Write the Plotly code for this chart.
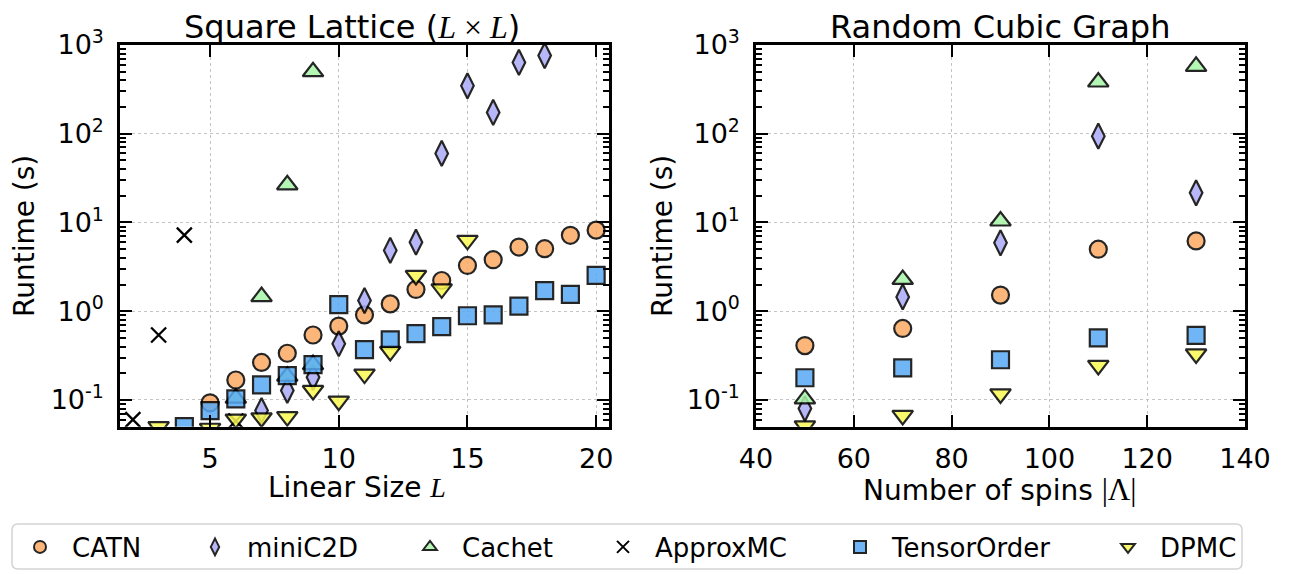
import plotly.graph_objects as go
import math

# ---------------- data ----------------
# Square lattice (x = linear size L)
sq_catn_x = [5, 6, 7, 8, 9, 10, 11, 12, 13, 14, 15, 16, 17, 18, 19, 20]
sq_catn_y = [0.093, 0.168, 0.265, 0.336, 0.54, 0.68, 0.91, 1.21, 1.76, 2.22, 3.28, 3.81, 5.29, 5.07, 7.17, 8.2]

sq_mini_x = [7, 8, 9, 10, 11, 12, 13, 14, 15, 16, 17, 18]
sq_mini_y = [0.076, 0.128, 0.18, 0.43, 1.32, 4.85, 6.0, 60, 347, 174, 636, 760]

sq_cachet_x = [6, 7, 8, 8, 9, 9]
sq_cachet_y = [0.105, 1.46, 0.185, 26.6, 0.25, 500]

sq_approx_x = [2, 3, 4, 6]
sq_approx_y = [0.060, 0.54, 7.2, 0.058]

sq_tensor_x = [4, 5, 6, 7, 8, 9, 10, 11, 12, 13, 14, 15, 16, 17, 18, 19, 20]
sq_tensor_y = [0.05, 0.076, 0.103, 0.148, 0.188, 0.25, 1.19, 0.37, 0.475, 0.56, 0.67, 0.89, 0.91, 1.14, 1.71, 1.55, 2.53]

sq_dpmc_x = [3, 5, 6, 7, 8, 9, 10, 11, 12, 13, 14, 15]
sq_dpmc_y = [0.05, 0.048, 0.061, 0.063, 0.065, 0.128, 0.097, 0.196, 0.353, 2.53, 1.79, 6.3]

# Random cubic graph (x = number of spins)
rc_x = [50, 70, 90, 110, 130]
rc_catn_y = [0.41, 0.64, 1.52, 5.0, 6.2]
rc_mini_y = [0.08, 1.45, 5.9, 94, 21.6]
rc_cachet_y = [0.103, 2.28, 10.4, 383, 575]
rc_tensor_y = [0.178, 0.23, 0.284, 0.50, 0.535]
rc_dpmc_y = [0.051, 0.067, 0.117, 0.245, 0.33]

series_names = ["CATN", "miniC2D", "Cachet", "ApproxMC", "TensorOrder", "DPMC"]
y_tickvals = [0.1, 1, 10, 100, 1000]
y_ticktext = ["10<sup>-1</sup>", "10<sup>0</sup>", "10<sup>1</sup>", "10<sup>2</sup>", "10<sup>3</sup>"]
sq_xticks = [5, 10, 15, 20]
rc_xticks = [40, 60, 80, 100, 120, 140]

# ---------------- styling ----------------
# The page body has an 8px margin: the figure is sized to fit the window exactly
OFF = 8
W, H = 1292 - OFF, 574 - OFF
FONT = "DejaVu Sans"
styles = {
    "CATN": dict(symbol="circle", color="#fdaa62", size=17),
    "miniC2D": dict(symbol="diamond-tall", color="#aaaaf8", size=18),
    "Cachet": dict(symbol="triangle-up", color="#a8f5a8", size=18),
    "ApproxMC": dict(symbol="x-thin", color="black", size=15),
    "TensorOrder": dict(symbol="square", color="#58aaf5", size=17),
    "DPMC": dict(symbol="triangle-down", color="#f8f852", size=18),
}

sq_data = {
    "CATN": (sq_catn_x, sq_catn_y),
    "miniC2D": (sq_mini_x, sq_mini_y),
    "Cachet": (sq_cachet_x, sq_cachet_y),
    "ApproxMC": (sq_approx_x, sq_approx_y),
    "TensorOrder": (sq_tensor_x, sq_tensor_y),
    "DPMC": (sq_dpmc_x, sq_dpmc_y),
}
rc_data = {
    "CATN": (rc_x, rc_catn_y),
    "miniC2D": (rc_x, rc_mini_y),
    "Cachet": (rc_x, rc_cachet_y),
    "TensorOrder": (rc_x, rc_tensor_y),
    "DPMC": (rc_x, rc_dpmc_y),
}

legend_ids = ["legend", "legend2", "legend3", "legend4", "legend5", "legend6"]


def marker_for(name):
    s = styles[name]
    if name == "ApproxMC":
        return dict(symbol=s["symbol"], size=s["size"], color="black",
                    line=dict(color="black", width=2.3))
    return dict(symbol=s["symbol"], size=s["size"], color=s["color"], opacity=0.85,
                line=dict(color="black", width=2.2))


fig = go.Figure()
for i, name in enumerate(series_names):
    x, y = sq_data[name]
    fig.add_trace(go.Scatter(x=x, y=y, mode="markers", name=name, legendgroup=name,
                             marker=marker_for(name), xaxis="x", yaxis="y",
                             legend=legend_ids[i], showlegend=True))
for name in series_names:
    if name not in rc_data:
        continue
    x, y = rc_data[name]
    fig.add_trace(go.Scatter(x=x, y=y, mode="markers", name=name, legendgroup=name,
                             marker=marker_for(name), xaxis="x2", yaxis="y2",
                             showlegend=False))

# ---------------- axes ----------------
minor_vals = []
for e in range(-2, 3):
    for m in range(2, 10):
        v = m * 10 ** e
        if 0.05 <= v <= 1000:
            minor_vals.append(v)

def px_x(p):
    return (p - OFF) / W

def px_y(p):
    return 1 - (p - OFF) / H

y_dom = [px_y(426.7), px_y(45)]
common_x = dict(ticks="inside", ticklen=12, tickwidth=2, tickcolor="black", mirror="allticks",
                showline=True, linewidth=2.5, linecolor="black", showgrid=True,
                gridcolor="#c4c4c4", griddash="dot", gridwidth=1, zeroline=False,
                tickfont=dict(family=FONT, size=27, color="black"), ticklabelstandoff=6)
common_y = dict(type="log", range=[math.log10(0.05), 3], tickmode="array", tickvals=y_tickvals,
                ticktext=y_ticktext, ticks="inside", ticklen=12, tickwidth=2, tickcolor="black",
                mirror="allticks", showline=True, linewidth=2.5, linecolor="black", showgrid=True,
                gridcolor="#c4c4c4", griddash="dot", gridwidth=1, zeroline=False,
                tickfont=dict(family=FONT, size=27, color="black"), ticklabelstandoff=8,
                minor=dict(tickmode="array", tickvals=minor_vals, ticks="inside", ticklen=6,
                           tickwidth=1.5, tickcolor="black", showgrid=False),
                domain=y_dom)

fig.update_layout(
    width=W, height=H,
    margin=dict(l=0, r=0, t=0, b=0, autoexpand=False),
    paper_bgcolor="white", plot_bgcolor="white",
    font=dict(family=FONT, color="black"),
    xaxis=dict(common_x, domain=[px_x(120), px_x(609)], range=[1.5, 20.5],
               tickmode="array", tickvals=sq_xticks, anchor="y"),
    yaxis=dict(common_y, anchor="x"),
    xaxis2=dict(common_x, domain=[px_x(756), px_x(1245)], range=[40, 140],
                tickmode="array", tickvals=rc_xticks, anchor="y2"),
    yaxis2=dict(common_y, anchor="x2"),
)

# ---------------- legends (one per entry, framed by a rounded box) ----------------
marker_px = [35, 210, 425, 618, 855, 1123]
for lid, mx in zip(legend_ids, marker_px):
    fig.update_layout({lid: dict(x=px_x(mx - 27), y=px_y(547), xanchor="left", yanchor="middle",
                                 orientation="h", bgcolor="rgba(0,0,0,0)", borderwidth=0,
                                 itemsizing="constant", itemwidth=54,
                                 font=dict(family=FONT, size=26, color="black"))})

x0, x1, y0, y1, r = 12, 1242, 524, 569, 6
def P(x, y):
    return f"{px_x(x):.5f},{px_y(y):.5f}"
path = (f"M {P(x0 + r, y0)} L {P(x1 - r, y0)} Q {P(x1, y0)} {P(x1, y0 + r)} "
        f"L {P(x1, y1 - r)} Q {P(x1, y1)} {P(x1 - r, y1)} L {P(x0 + r, y1)} "
        f"Q {P(x0, y1)} {P(x0, y1 - r)} L {P(x0, y0 + r)} Q {P(x0, y0)} {P(x0 + r, y0)} Z")
fig.add_shape(type="path", path=path, xref="paper", yref="paper",
              line=dict(color="#d3d3d3", width=1.5), fillcolor="rgba(255,255,255,0.8)", layer="below")

# ---------------- titles & axis labels ----------------
SERIF = "'Liberation Serif'"
def ann(text, x, y, size, angle=0):
    fig.add_annotation(text=text, x=px_x(x), y=px_y(y), xref="paper", yref="paper",
                       xanchor="center", yanchor="middle", showarrow=False, textangle=angle,
                       font=dict(family=FONT, size=size, color="black"))

ann(f"Square Lattice (<span style=\"font-family:{SERIF}\"><i>L</i> × <i>L</i></span>)", 352, 27, 32)
ann("Random Cubic Graph", 1000, 27, 32)
ann(f"Linear Size <span style=\"font-family:{SERIF}\"><i>L</i></span>", 357, 487, 28)
ann(f"Number of spins <span style=\"font-family:{SERIF};font-size:31px\">|Λ|</span>", 1000, 490, 28)
ann("Runtime (s)", 24, 236, 28, -90)
ann("Runtime (s)", 662, 236, 28, -90)

fig.write_html("out.html")
